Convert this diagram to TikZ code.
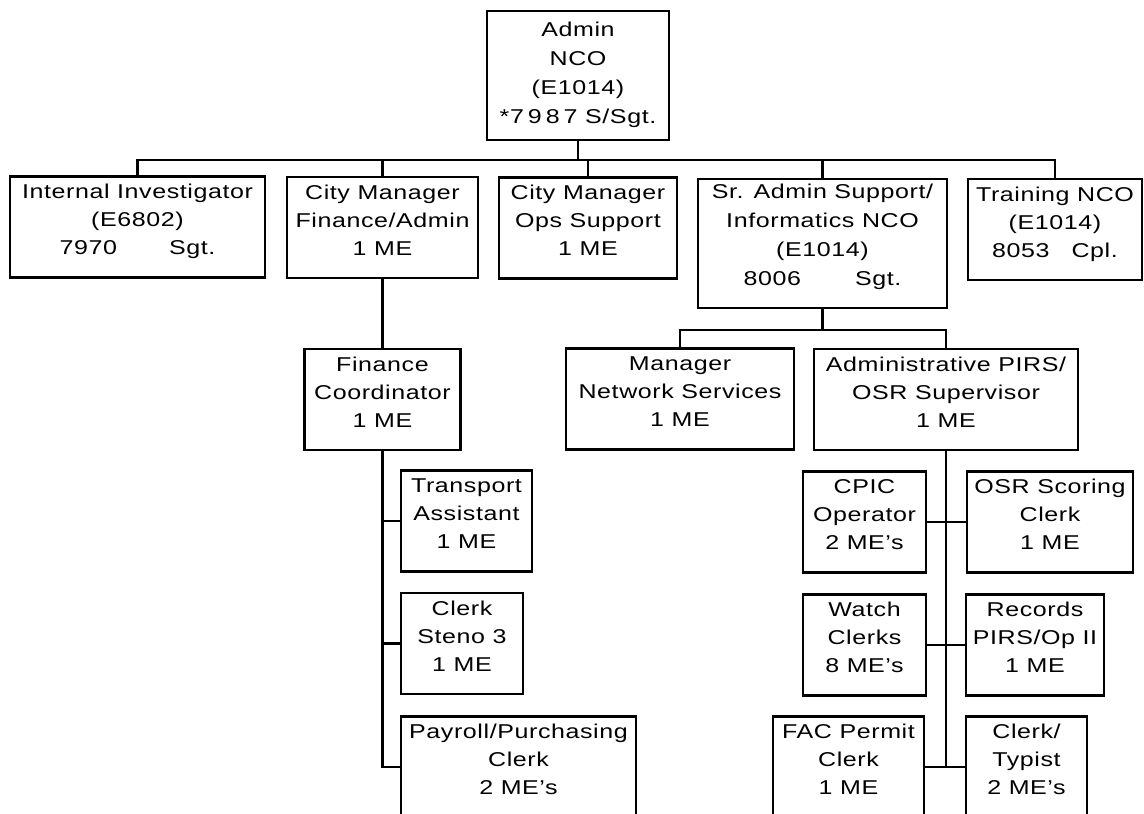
\documentclass[tikz,border=0pt]{standalone}
\usepackage{fontspec}
\setmainfont{Liberation Sans}[FakeStretch=1.25,LetterSpace=3]
\begin{document}
\begin{tikzpicture}[x=0.5pt,y=-0.5pt,line width=1.2pt,
  font=\fontsize{10}{14}\selectfont,
  job/.style={draw,align=center,inner xsep=0pt,inner ysep=0pt,minimum height=50.5pt,text depth=7.5pt},
  jobiv/.style={job,font=\fontsize{10}{14.5}\selectfont,minimum height=64.5pt,text depth=3.2pt}]

  \clip (0,0) rectangle (1144,813);

  \node[jobiv,minimum width=91pt] (adm) at (578,75.5) {Admin\\NCO\\(E1014)\\*7\kern2pt9\kern2pt8\kern2pt7 S/Sgt.};

  \node[job,minimum width=127.5pt] (ii) at (137.5,227) {Internal Investigator\\(E6802)\\7970\hspace{26pt}Sgt.};
  \node[job,minimum width=95.5pt] (cmf) at (382.5,227.5) {City Manager\\Finance/Admin\\1 ME};
  \node[job,minimum width=89pt] (cmo) at (588,228) {City Manager\\Ops Support\\1 ME};
  \node[jobiv,minimum width=124.5pt,text depth=9pt] (sra) at (822.5,243.5) {Sr. Admin Support/\\Informatics NCO\\(E1014)\\8006\hspace{27pt}Sgt.};
  \node[job,minimum width=87pt] (trn) at (1055,229.5) {Training NCO\\(E1014)\\8053\hspace{11pt}Cpl.};

  \node[job,minimum width=78pt] (fc) at (382.5,399.5) {Finance\\Coordinator\\1 ME};
  \node[job,minimum width=114pt] (mns) at (680,399) {Manager\\Network Services\\1 ME};
  \node[job,minimum width=132pt] (apirs) at (946,399.5) {Administrative PIRS/\\OSR Supervisor\\1 ME};

  % finance staff, hung off the left trunk
  \node[job,minimum width=65.5pt] (ta) at (466.5,521) {Transport\\Assistant\\1 ME};
  \node[job,minimum width=61pt] (cs) at (462,643.5) {Clerk\\Steno 3\\1 ME};
  \node[job,minimum width=117.5pt] (pp) at (518.5,767) {Payroll/Purchasing\\Clerk\\2 ME's};

  % PIRS/OSR staff on both sides of the right trunk
  \node[job,minimum width=61.5pt] (cpic) at (864.5,522) {CPIC\\Operator\\2 ME's};
  \node[job,minimum width=83pt] (osr) at (1050,522) {OSR Scoring\\Clerk\\1 ME};
  \node[job,minimum width=61.5pt] (wc) at (864.5,645) {Watch\\Clerks\\8 ME's};
  \node[job,minimum width=69pt] (rec) at (1035,645) {Records\\PIRS/Op II\\1 ME};
  \node[job,minimum width=75.5pt] (fac) at (848.5,767) {FAC Permit\\Clerk\\1 ME};
  \node[job,minimum width=60.5pt] (ct) at (1026.5,767) {Clerk/\\Typist\\2 ME's};

  \coordinate (bus) at (0,160);
  \coordinate (sbus) at (0,330);

  \draw (adm.south) -- (adm.south |- bus) -| (ii.north);
  \draw (adm.south) -- (adm.south |- bus) -| (cmf.north);
  \draw (adm.south) -- (adm.south |- bus) -| (cmo.north);
  \draw (adm.south) -- (adm.south |- bus) -| (sra.north);
  \draw (adm.south) -- (adm.south |- bus) -| (trn.north);
  \draw (cmf.south) -- (fc.north);
  \draw (sra.south) -- (sra.south |- sbus) -| (mns.north);
  \draw (sra.south) -- (sra.south |- sbus) -| (apirs.north);

  \draw (fc.south) |- (ta.west);
  \draw (fc.south) |- (cs.west);
  \draw (fc.south) |- (pp.west);
  \draw (apirs.south) |- (cpic.east);
  \draw (apirs.south) |- (osr.west);
  \draw (apirs.south) |- (wc.east);
  \draw (apirs.south) |- (rec.west);
  \draw (apirs.south) |- (fac.east);
  \draw (apirs.south) |- (ct.west);
\end{tikzpicture}
\end{document}
